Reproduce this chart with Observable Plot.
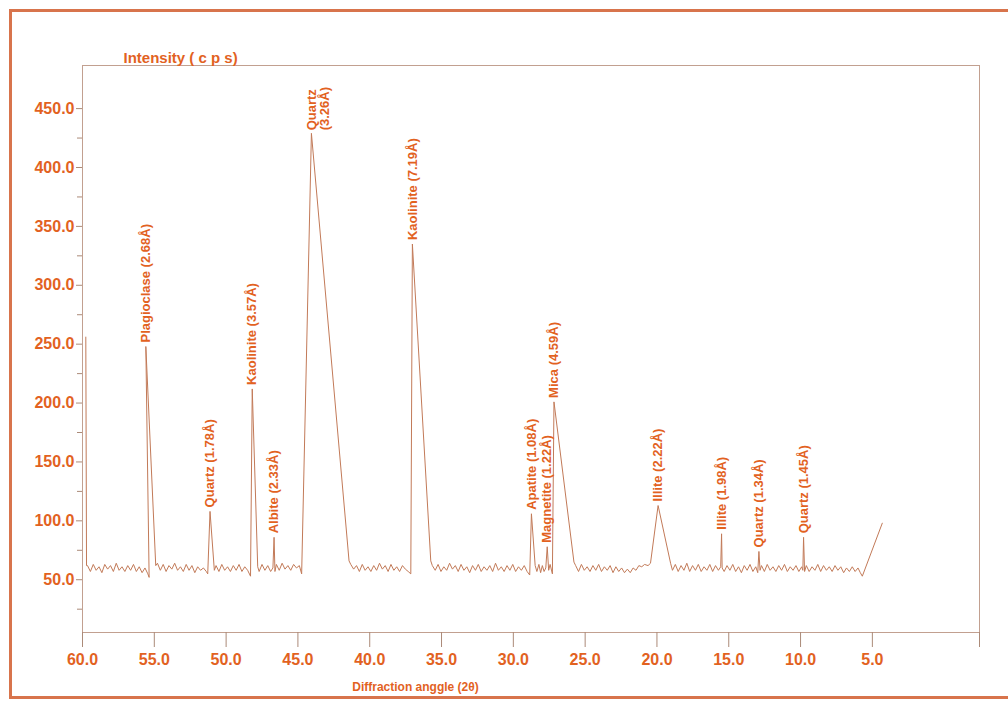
<!DOCTYPE html>
<html>
<head>
<meta charset="utf-8">
<script src="https://cdn.jsdelivr.net/npm/d3@7"></script>
<script src="https://cdn.jsdelivr.net/npm/@observablehq/plot@0.6"></script>
<style>
  html, body { margin: 0; padding: 0; background: #fff; overflow: hidden; }
  #wrap { position: relative; width: 1008px; height: 702px; overflow: hidden; }
  #border { position: absolute; left: 9px; top: 9px; width: 1010px; height: 684px;
            border: 3px solid #d8744c; pointer-events: none; }
</style>
</head>
<body>
<div id="wrap"><div id="chart"></div><div id="border"></div></div>
<script>
// XRD scan: [2θ (degrees), intensity (cps)], in recording order (high angle to low angle)
const scan = [
  [59.77,256],[59.72,62],
  [59.65,62],[59.45,57],[59.25,63],[59.05,58],[58.85,61],[58.65,56],[58.45,63],[58.25,59],
  [58.05,62],[57.85,57],[57.65,64],[57.45,58],[57.25,61],[57.05,57],[56.85,62],[56.65,58],
  [56.45,63],[56.25,57],[56.05,61],[55.85,56],[55.65,60],[55.45,55],[55.36,52],
  [55.59,248],[54.90,62],
  [54.78,64],[54.58,58],[54.38,63],[54.18,57],[53.98,62],[53.78,59],[53.58,64],[53.38,58],
  [53.18,61],[52.98,57],[52.78,63],[52.58,58],[52.38,62],[52.18,56],[51.98,61],[51.78,58],
  [51.58,60],[51.38,57],[51.28,55],
  [51.12,108],[50.82,58],
  [50.70,62],[50.50,57],[50.30,63],[50.10,58],[49.90,61],[49.70,57],[49.50,62],[49.30,58],
  [49.10,63],[48.90,57],[48.70,61],[48.50,58],[48.30,53],
  [48.18,212],[47.80,61],
  [47.70,57],[47.50,63],[47.30,58],[47.10,62],[46.90,57],[46.74,60],[46.66,86],[46.60,57],
  [46.50,63],[46.30,58],[46.10,64],[45.90,59],[45.70,62],[45.50,58],[45.30,63],[45.10,60],
  [44.90,62],[44.74,55],
  [44.06,429],[41.44,66],
  [41.32,63],[41.12,59],[40.92,62],[40.72,57],[40.52,63],[40.32,58],[40.12,61],[39.92,57],
  [39.72,62],[39.52,58],[39.32,64],[39.12,59],[38.92,62],[38.72,57],[38.52,63],[38.32,58],
  [38.12,61],[37.92,57],[37.72,62],[37.52,59],[37.32,57],[37.14,55],
  [37.03,335],[35.75,66],
  [35.64,62],[35.44,58],[35.24,63],[35.04,57],[34.84,61],[34.64,58],[34.44,64],[34.24,59],
  [34.04,62],[33.84,57],[33.64,63],[33.44,58],[33.24,61],[33.04,56],[32.84,62],[32.64,58],
  [32.44,63],[32.24,57],[32.04,61],[31.84,58],[31.64,62],[31.44,57],[31.24,64],[31.04,58],
  [30.84,61],[30.64,57],[30.44,62],[30.24,58],[30.04,63],[29.84,57],[29.64,61],[29.44,58],
  [29.24,62],[29.04,57],[28.86,54],
  [28.74,106],[28.48,62],[28.36,57],[28.22,63],[28.10,56],[27.98,62],[27.86,57],[27.74,60],
  [27.64,78],[27.54,58],[27.44,63],[27.28,55],
  [27.17,201],[25.78,65],
  [25.66,62],[25.46,57],[25.26,63],[25.06,58],[24.86,61],[24.66,57],[24.46,62],[24.26,58],
  [24.06,63],[23.86,57],[23.66,61],[23.46,58],[23.26,62],[23.06,56],[22.86,61],[22.66,57],
  [22.46,60],[22.26,56],[22.06,59],[21.86,56],[21.66,60],[21.46,58],[21.26,62],[21.06,61],
  [20.86,63],[20.62,62],[20.45,64],
  [19.92,113],[19.05,64],
  [18.92,58],[18.72,63],[18.52,57],[18.32,62],[18.12,58],[17.92,64],[17.72,57],[17.52,62],
  [17.32,58],[17.12,63],[16.92,57],[16.72,61],[16.52,58],[16.32,63],[16.12,57],[15.92,62],
  [15.72,58],[15.56,61],[15.50,89],[15.46,60],[15.32,57],[15.12,62],[14.92,58],[14.72,63],
  [14.52,57],[14.32,61],[14.12,56],[13.92,62],[13.72,58],[13.52,63],[13.32,57],[13.12,61],
  [12.98,56],[12.90,74],[12.82,58],[12.72,62],[12.52,57],[12.32,63],[12.12,58],[11.92,61],
  [11.72,57],[11.52,62],[11.32,58],[11.12,63],[10.92,57],[10.72,61],[10.52,58],[10.32,62],
  [10.12,57],[9.92,61],[9.84,58],[9.79,86],[9.72,57],[9.60,62],[9.40,57],[9.20,61],
  [9.00,58],[8.80,63],[8.60,57],[8.40,62],[8.20,58],[8.00,61],[7.80,57],[7.60,62],
  [7.40,58],[7.20,61],[7.00,56],[6.80,60],[6.60,57],[6.40,61],[6.20,57],[6.00,60],
  [5.84,56],[5.70,53],[4.31,98]
];

// Identified reflections (mineral and d-spacing), at their peak apex
const peakNames = [
  "Plagioclase (2.68Å)", "Quartz (1.78Å)", "Kaolinite (3.57Å)", "Albite (2.33Å)",
  "Kaolinite (7.19Å)", "Apatite (1.08Å)", "Magnetite (1.22Å)", "Mica (4.59Å)",
  "Illite (2.22Å)", "Illite (1.98Å)", "Quartz (1.34Å)", "Quartz (1.45Å)"
];
const peakAngles = [55.59, 51.12, 48.18, 46.66, 37.03, 28.74, 27.64, 27.17, 19.92, 15.50, 12.90, 9.79];
const peakCounts = [248, 108, 212, 86, 335, 106, 78, 201, 113, 89, 74, 86];

// Strongest reflection, labelled on two lines
const mainPeakName = "Quartz\n(3.26Å)";
const mainPeakAngle = 44.06;
const mainPeakCounts = 429;

const xTicks = [60, 55, 50, 45, 40, 35, 30, 25, 20, 15, 10, 5];
const yTicks = [50, 100, 150, 200, 250, 300, 350, 400, 450];
const yMinorTicks = [25, 75, 125, 175, 225, 275, 325, 375, 425];

const xTitle = "Diffraction anggle (2θ)";
const yTitle = "Intensity ( c p s)";

const xDomain = [60, -2.46];
const yDomain = [5.2, 486.6];

const labelColor = "#e2621f";
const traceColor = "#c27a58";
const axisColor = "#ab8a78";
const frameColor = "#c2a090";

const peaks = peakNames.map((name, i) => ({name, angle: peakAngles[i], counts: peakCounts[i]}));
const mainPeak = [{name: mainPeakName, angle: mainPeakAngle, counts: mainPeakCounts}];

const chart = Plot.plot({
  width: 1008,
  height: 702,
  marginLeft: 82,
  marginRight: 29,
  marginTop: 65,
  marginBottom: 70,
  style: {
    background: "#fff",
    fontFamily: "'Liberation Sans', Arial, sans-serif",
    fontWeight: "bold",
    fontSize: "16px",
    overflow: "visible"
  },
  x: {type: "linear", domain: xDomain},
  y: {type: "linear", domain: yDomain},
  marks: [
    Plot.frame({stroke: frameColor}),
    Plot.axisY(yTicks, {tickSize: 6, tickPadding: 2, tickFormat: d => d.toFixed(1),
      stroke: axisColor, fill: labelColor, fontSize: 16, label: null}),
    Plot.axisY(yMinorTicks, {tickSize: 5, tickFormat: () => "", stroke: axisColor, label: null}),
    Plot.axisX(xTicks, {tickSize: 15, tickPadding: 6, tickFormat: d => d.toFixed(1),
      stroke: axisColor, fill: labelColor, fontSize: 16, label: null}),
    Plot.axisX([xDomain[1]], {tickSize: 15, tickFormat: () => "", stroke: axisColor, label: null}),
    Plot.line(scan, {x: d => d[0], y: d => d[1], stroke: traceColor, strokeWidth: 1}),
    Plot.text(peaks, {x: "angle", y: "counts", text: "name", rotate: -90,
      textAnchor: "start", lineAnchor: "middle", dy: -4, fill: labelColor, fontSize: 13}),
    Plot.text(mainPeak, {x: "angle", y: "counts", text: "name", rotate: -90,
      textAnchor: "start", lineAnchor: "top", dx: -5, dy: -3, fill: labelColor, fontSize: 13}),
    Plot.text([yTitle], {frameAnchor: "top-left", textAnchor: "start", lineAnchor: "bottom",
      dx: 41, dy: -3, fill: labelColor, fontSize: 15}),
    Plot.text([xTitle], {frameAnchor: "bottom-left", textAnchor: "middle", lineAnchor: "bottom",
      dx: 333, dy: 58, fill: labelColor, fontSize: 12})
  ]
});

document.getElementById("chart").appendChild(chart);
</script>
</body>
</html>
